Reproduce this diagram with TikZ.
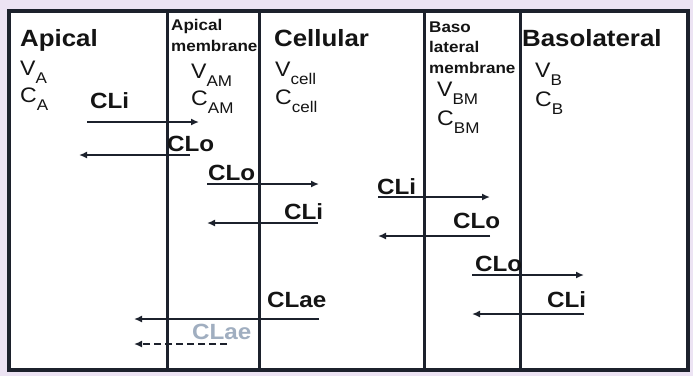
\documentclass[tikz,border=0pt]{standalone}
\usepackage{fontspec}
\setmainfont{Liberation Sans}[FakeStretch=1.1]
\usetikzlibrary{arrows.meta}
\definecolor{bgl}{RGB}{236,227,243}
\definecolor{lin}{RGB}{28,33,44}
\definecolor{txt}{RGB}{20,20,20}
\definecolor{pale}{RGB}{160,174,192}
\newcommand{\subt}[2]{#1\raisebox{-8.5pt}{\fontsize{15.5}{15.5}\selectfont #2}}
\tikzset{
  head/.style={anchor=base west, inner sep=0pt, font=\fontsize{23.5}{24}\selectfont\bfseries, text=txt},
  var/.style={anchor=base west, inner sep=0pt, font=\fontsize{21}{22}\selectfont, text=txt},
  memb/.style={anchor=base west, inner sep=0pt, font=\fontsize{15.5}{16}\selectfont\bfseries, text=txt},
  cl/.style={anchor=base west, inner sep=0pt, font=\fontsize{22}{22}\selectfont\bfseries, text=txt},
  flux/.style={draw=lin, line width=2pt, -{Latex[length=8pt,width=7pt]}},
  wall/.style={draw=lin, line width=3pt}
}
\begin{document}
\begin{tikzpicture}[x=1pt,y=-1pt]
\useasboundingbox (0,0) rectangle (693,376);
\fill[bgl] (0,0) rectangle (693,376);
\fill[white] (9,11) rectangle (688,370);
% walls
\coordinate (t1) at (167,11); \coordinate (b1) at (167,370);
\coordinate (t2) at (259,11); \coordinate (b2) at (259,370);
\coordinate (t3) at (424,11); \coordinate (b3) at (424,370);
\coordinate (t4) at (520,11); \coordinate (b4) at (520,370);
\draw[wall] (t1) -- (b1);
\draw[wall] (t2) -- (b2);
\draw[wall] (t3) -- (b3);
\draw[wall] (t4) -- (b4);
\draw[wall, line width=3.2pt] (9,11) rectangle (688,370);
% headings
\node[head] (hA) at (20,46) {Apical};
\node[var] (vA) at (20,75) {\subt{V}{A}};
\node[var] (cA) at (20,102) {\subt{C}{A}};
\node[memb] (am1) at (171,30) {Apical};
\node[memb] (am2) at (171,51) {membrane};
\node[var] (vAM) at (191,78) {\subt{V}{AM}};
\node[var] (cAM) at (191,105) {\subt{C}{AM}};
\node[head] (hC) at (274,46) {Cellular};
\node[var] (vC) at (275,76) {\subt{V}{cell}};
\node[var] (cC) at (275,104) {\subt{C}{cell}};
\node[memb] (bm1) at (429,32) {Baso};
\node[memb] (bm2) at (429,52) {lateral};
\node[memb] (bm3) at (429,73) {membrane};
\node[var] (vBM) at (437,96) {\subt{V}{BM}};
\node[var] (cBM) at (437,125) {\subt{C}{BM}};
\node[head] (hB) at (522,46) {Basolateral};
\node[var] (vB) at (535,77) {\subt{V}{B}};
\node[var] (cB) at (535,106) {\subt{C}{B}};
% flux labels
\node[cl] (l1) at (90,108) {CLi};
\node[cl] (l2) at (167,151) {CLo};
\node[cl] (l3) at (208,180) {CLo};
\node[cl] (l4) at (284,219) {CLi};
\node[cl] (l5) at (377,194) {CLi};
\node[cl] (l6) at (453,228) {CLo};
\node[cl] (l7) at (475,271) {CLo};
\node[cl] (l8) at (547,307) {CLi};
\node[cl] (l9) at (267,307) {CLae};
\node[cl, text=pale] (l10) at (192,339) {CLae};
% arrow ends
\coordinate (a1s) at (87,122);  \coordinate (a1e) at (199,122);
\coordinate (a2s) at (190,155); \coordinate (a2e) at (79,155);
\coordinate (a3s) at (207,184); \coordinate (a3e) at (319,184);
\coordinate (a4s) at (318,223); \coordinate (a4e) at (207,223);
\coordinate (a5s) at (378,197); \coordinate (a5e) at (490,197);
\coordinate (a6s) at (490,236); \coordinate (a6e) at (378,236);
\coordinate (a7s) at (472,275); \coordinate (a7e) at (584,275);
\coordinate (a8s) at (584,314); \coordinate (a8e) at (472,314);
\coordinate (a9s) at (319,319); \coordinate (a9e) at (134,319);
\coordinate (a10s) at (227,344); \coordinate (a10e) at (134,344);
\draw[flux] (a1s) -- (a1e);
\draw[flux] (a2s) -- (a2e);
\draw[flux] (a3s) -- (a3e);
\draw[flux] (a4s) -- (a4e);
\draw[flux] (a5s) -- (a5e);
\draw[flux] (a6s) -- (a6e);
\draw[flux] (a7s) -- (a7e);
\draw[flux] (a8s) -- (a8e);
\draw[flux] (a9s) -- (a9e);
\draw[flux, dash pattern=on 7pt off 4pt] (a10s) -- (a10e);
\end{tikzpicture}
\end{document}
